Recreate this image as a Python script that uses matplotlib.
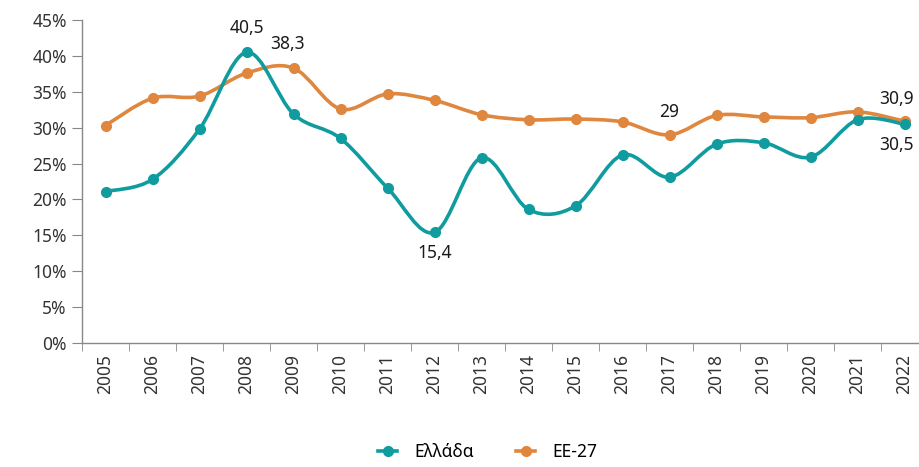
import matplotlib.pyplot as plt
import numpy as np
from matplotlib.path import Path
from matplotlib.patches import PathPatch
from matplotlib.lines import Line2D

plt.rcParams['font.family'] = ['Noto Sans', 'DejaVu Sans']

years = [str(y) for y in range(2005, 2023)]
greece = [21.1, 22.8, 29.8, 40.5, 31.9, 28.5, 21.6, 15.4, 25.8, 18.6, 19.1, 26.2, 23.1, 27.7, 27.9, 25.9, 31.1, 30.5]
eu27 = [30.3, 34.1, 34.4, 37.6, 38.3, 32.6, 34.7, 33.8, 31.8, 31.1, 31.2, 30.8, 29.0, 31.7, 31.5, 31.4, 32.2, 30.9]

c_gr = '#109c9f'
c_eu = '#e0873f'


def smooth_path(x, y):
    # bezier like excel "smoothed line"
    pts = np.column_stack([x, y]).astype(float)
    n = len(pts)
    verts = [pts[0]]
    codes = [Path.MOVETO]
    for i in range(n - 1):
        p0 = pts[i - 1] if i > 0 else pts[i]
        p1 = pts[i]
        p2 = pts[i + 1]
        p3 = pts[i + 2] if i + 2 < n else pts[i + 1]
        c1 = p1 + (p2 - p0) / 6.0
        c2 = p2 - (p3 - p1) / 6.0
        verts += [c1, c2, p2]
        codes += [Path.CURVE4] * 3
    return Path(verts, codes)


fig = plt.figure(figsize=(9.19, 4.67), dpi=100)
ax = fig.add_axes([82 / 919, 1 - 343 / 467, 846 / 919, 323 / 467])

x = np.arange(len(years))
for vals, col in [(eu27, c_eu), (greece, c_gr)]:
    ax.add_patch(PathPatch(smooth_path(x, vals), facecolor='none', edgecolor=col, lw=2.6,
                           capstyle='round', joinstyle='round'))
    ax.plot(x, vals, 'o', color=col, markersize=7, zorder=3)

ax.set_xlim(-0.5, len(years) - 0.5)
ax.set_ylim(0, 45)
ax.set_yticks(range(0, 50, 5))
ax.set_yticklabels([f'{v}%' for v in range(0, 50, 5)], fontsize=12.5, color='#333333')
ax.set_xticks(x)
ax.set_xticklabels(years, rotation=90, fontsize=12.5, color='#333333')
ax.set_xticks(np.arange(-0.5, len(years)), minor=True)
ax.tick_params(axis='x', which='major', length=0, pad=8)
ax.tick_params(axis='x', which='minor', length=6, color='#888888')
ax.tick_params(axis='y', length=7, color='#888888', pad=4)
for s in ['top', 'right']:
    ax.spines[s].set_visible(False)
for s in ['left', 'bottom']:
    ax.spines[s].set_color('#888888')
    ax.spines[s].set_linewidth(1)

fs = 12.5
kw = dict(textcoords='offset pixels', fontsize=fs, fontweight='medium', color='#1a1a1a')
ax.annotate('40,5', (3, greece[3]), xytext=(0, 15), ha='center', va='bottom', **kw)
ax.annotate('38,3', (4, eu27[4]), xytext=(-6, 15), ha='center', va='bottom', **kw)
ax.annotate('15,4', (7, greece[7]), xytext=(0, -12), ha='center', va='top', **kw)
ax.annotate('29', (12, eu27[12]), xytext=(0, 14), ha='center', va='bottom', **kw)
ax.annotate('30,9', (17, eu27[17]), xytext=(9, 13), ha='right', va='bottom', **kw)
ax.annotate('30,5', (17, greece[17]), xytext=(9, -12), ha='right', va='top', **kw)

handles = [Line2D([], [], color=c_gr, lw=2.6, marker='o', markersize=7),
           Line2D([], [], color=c_eu, lw=2.6, marker='o', markersize=7)]
fig.legend(handles, ['Ελλάδα', 'ΕΕ-27'], loc='center', bbox_to_anchor=(488 / 919, 1 - 452 / 467),
           ncol=2, frameon=False, fontsize=12.5, handlelength=1.1, columnspacing=2.4, handletextpad=1.0)

fig.savefig('out.png', dpi=100)
